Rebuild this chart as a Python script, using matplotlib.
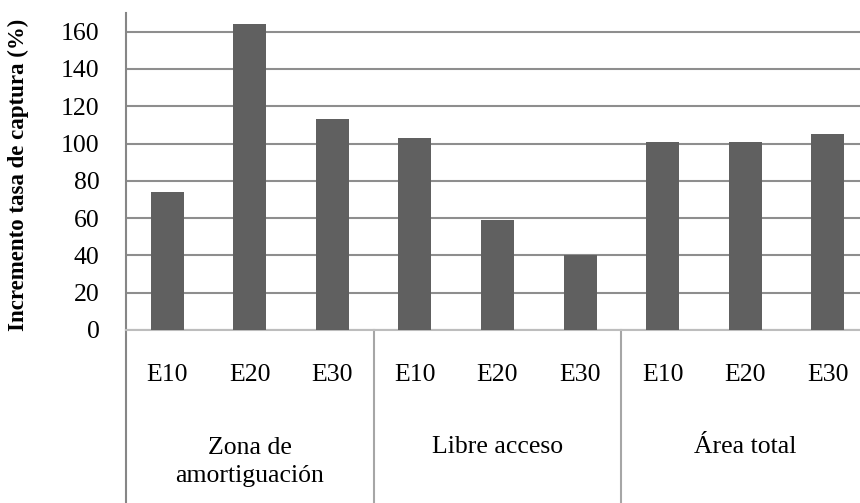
import matplotlib
matplotlib.use('Agg')
import matplotlib.pyplot as plt
import matplotlib.transforms as mtransforms

plt.rcParams['font.family'] = ['Liberation Serif', 'DejaVu Serif']

GROUPS = ['Zona de\namortiguación', 'Libre acceso', 'Área total']
SUBCATS = ['E10', 'E20', 'E30']
VALUES_ZONA = [74, 164, 113]
VALUES_LIBRE = [103, 59, 40]
VALUES_TOTAL = [101, 101, 105]
Y_TICKS = [0, 20, 40, 60, 80, 100, 120, 140, 160]

BAR_COLOR = '#606060'
GRID_COLOR = '#8e8e8e'
AXIS_COLOR = '#868686'
FS = 18.5

values = VALUES_ZONA + VALUES_LIBRE + VALUES_TOTAL
labels = SUBCATS * len(GROUPS)
xs = list(range(len(values)))

W, H = 860, 503
fig = plt.figure(figsize=(W / 100, H / 100), dpi=100)
ax = fig.add_axes([126 / W, 1 - 330 / H, 743 / W, 317 / H])

ax.bar(xs, values, width=0.4, color=BAR_COLOR, zorder=3)
ax.set_xlim(-0.5, len(values) - 0.5)
ax.set_ylim(0, 170)
ax.set_yticks(Y_TICKS)
ax.set_yticklabels([str(t) for t in Y_TICKS], fontsize=FS)
ax.tick_params(axis='y', length=0, pad=19)
ax.set_xticks([])

ax.grid(axis='y', color=GRID_COLOR, linewidth=1.5, zorder=0)
for side in ['top', 'right']:
    ax.spines[side].set_visible(False)
ax.spines['bottom'].set_color('#bdbdbd')
ax.spines['bottom'].set_linewidth(1.5)
ax.spines['left'].set_color(AXIS_COLOR)
ax.spines['left'].set_linewidth(1.5)

# multi-level category axis below the plot
trans = mtransforms.blended_transform_factory(ax.transData, fig.transFigure)
y_axis_bottom = 1 - 330 / H
for i, sep in enumerate([-0.5, 2.5, 5.5]):
    ax.plot([sep, sep], [0, y_axis_bottom], transform=trans, clip_on=False,
            color=AXIS_COLOR if i == 0 else '#a6a6a6', linewidth=1.5)

for x, lab in zip(xs, labels):
    ax.text(x, 1 - 375 / H, lab, transform=trans, ha='center', va='center',
            fontsize=FS)

group_y = [462, 447, 447]
for g, name in enumerate(GROUPS):
    ax.text(g * 3 + 1, 1 - group_y[g] / H, name, transform=trans, ha='center',
            va='center', fontsize=FS, linespacing=1.4)

fig.text(18 / W, 1 - 175 / H, 'Incremento tasa de captura (%)', rotation=90,
         ha='center', va='center', fontsize=16.5, fontweight='bold')

fig.savefig('out.png', dpi=100)
